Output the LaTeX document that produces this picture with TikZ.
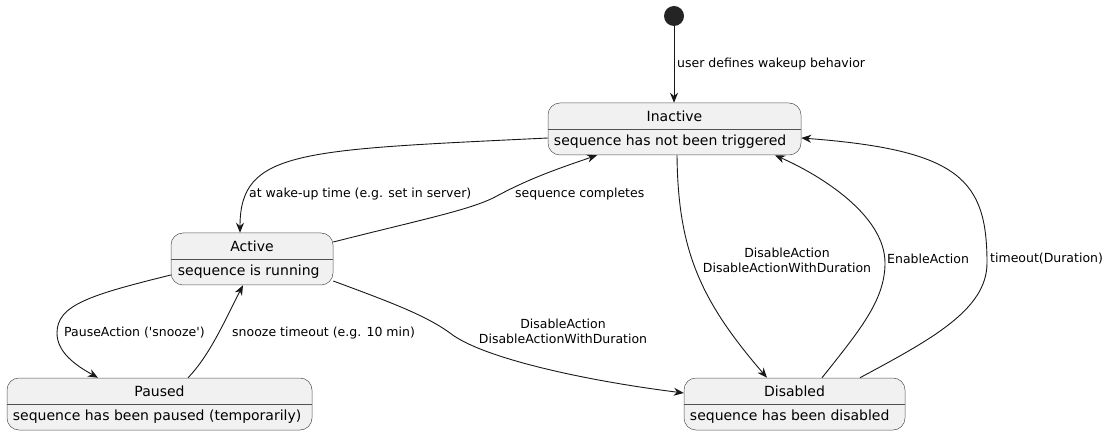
\documentclass[tikz,border=0pt]{standalone}
\usepackage{fontspec}
\setmainfont{DejaVu Sans}
\usetikzlibrary{arrows.meta,positioning}
\definecolor{statefill}{HTML}{F1F1F1}
\definecolor{umlline}{HTML}{181818}

\begin{document}
\begin{tikzpicture}[x=1pt,y=-1pt,
    state/.style={draw=umlline!75,line width=0.5pt,fill=statefill,rounded corners=12pt,
      minimum height=52pt,inner sep=0pt},
    title/.style={font=\fontsize{14}{16}\selectfont,inner sep=0pt},
    body/.style={font=\fontsize{14}{16}\selectfont,inner sep=0pt,anchor=west},
    lbl/.style={font=\fontsize{12.5}{15}\selectfont,inner sep=0pt,align=center},
    trans/.style={draw=umlline,line width=0.9pt,-{Stealth[length=10pt,width=8pt]}}]
  \useasboundingbox (0,0) rectangle (1110,435);

  % states
  \node [circle,fill=umlline!95!white,minimum size=20pt,inner sep=0pt] (init) at (674,16) {};

  \node [state,minimum width=253pt] (inactive) at (674.5,129) {};
  \draw [umlline!75,line width=0.5pt] (inactive.west) -- (inactive.east);
  \node [title] (inactive-title) at ([yshift=13pt]inactive.center) {Inactive};
  \node [body] (inactive-body) at ([xshift=6pt,yshift=-13pt]inactive.west) {sequence has not been triggered};

  \node [state,minimum width=162pt] (active) at (252,259) {};
  \draw [umlline!75,line width=0.5pt] (active.west) -- (active.east);
  \node [title] (active-title) at ([yshift=13pt]active.center) {Active};
  \node [body] (active-body) at ([xshift=7pt,yshift=-13pt]active.west) {sequence is running};

  \node [state,minimum width=305pt] (paused) at (159.5,404) {};
  \draw [umlline!75,line width=0.5pt] (paused.west) -- (paused.east);
  \node [title] (paused-title) at ([yshift=13pt]paused.center) {Paused};
  \node [body] (paused-body) at ([xshift=6pt,yshift=-13pt]paused.west) {sequence has been paused (temporarily)};

  \node [state,minimum width=221pt] (disabled) at (794.5,404) {};
  \draw [umlline!75,line width=0.5pt] (disabled.west) -- (disabled.east);
  \node [title] (disabled-title) at ([yshift=13pt]disabled.center) {Disabled};
  \node [body] (disabled-body) at ([xshift=6pt,yshift=-13pt]disabled.west) {sequence has been disabled};

  % transitions
  \draw [trans] (init) -- (init |- inactive.north);
  \draw [trans] ([yshift=-9pt]inactive.west) .. controls (300,150) and (240,150) .. ([xshift=-12pt]active.north);
  \draw [trans] ([yshift=17pt]active.east) .. controls (420,220) and (470,210) .. (495,197)
    .. controls (530,178) and (560,168) .. ([xshift=-77.5pt]inactive.south);
  \draw [trans] ([xshift=2.5pt]inactive.south) .. controls (678,250) and (700,300) .. ([xshift=-27.5pt]disabled.north);
  \draw [trans] ([xshift=27.5pt]disabled.north) .. controls (860,330) and (885,300) .. (885,263)
    .. controls (885,215) and (820,175) .. ([xshift=100.5pt]inactive.south);
  \draw [trans] ([xshift=65.5pt]disabled.north) .. controls (930,340) and (987,310) .. (987,263)
    .. controls (987,180) and (960,150) .. ([yshift=-9pt]inactive.east);
  \draw [trans] ([yshift=-16pt]active.west) .. controls (90,295) and (57,305) .. (57,333)
    .. controls (57,352) and (75,365) .. ([xshift=-61.5pt]paused.north);
  \draw [trans] ([xshift=28.5pt]paused.north) .. controls (210,355) and (225,320) .. ([xshift=-9pt]active.south);
  \draw [trans] ([yshift=-22pt]active.east) .. controls (390,302) and (425,315) .. (450,333)
    .. controls (480,357) and (580,380) .. ([yshift=11pt]disabled.west);

  % labels
  \node [lbl,anchor=west] (l-wakeup) at (677,64) {user defines wakeup behavior};
  \node [lbl,anchor=west] (l-waketime) at (249,194) {at wake-up time (e.g. set in server)};
  \node [lbl,anchor=west] (l-completes) at (515,194) {sequence completes};
  \node [lbl] (l-disable-top) at (787,260) {DisableAction\\DisableActionWithDuration};
  \node [lbl,anchor=west] (l-enable) at (887,259) {EnableAction};
  \node [lbl,anchor=west] (l-timeout) at (990,259) {timeout(Duration)};
  \node [lbl,anchor=west] (l-pause) at (64,333) {PauseAction (\textquotesingle snooze\textquotesingle)};
  \node [lbl,anchor=west] (l-snooze) at (232,333) {snooze timeout (e.g. 10 min)};
  \node [lbl] (l-disable-low) at (563,331) {DisableAction\\DisableActionWithDuration};
\end{tikzpicture}
\end{document}
